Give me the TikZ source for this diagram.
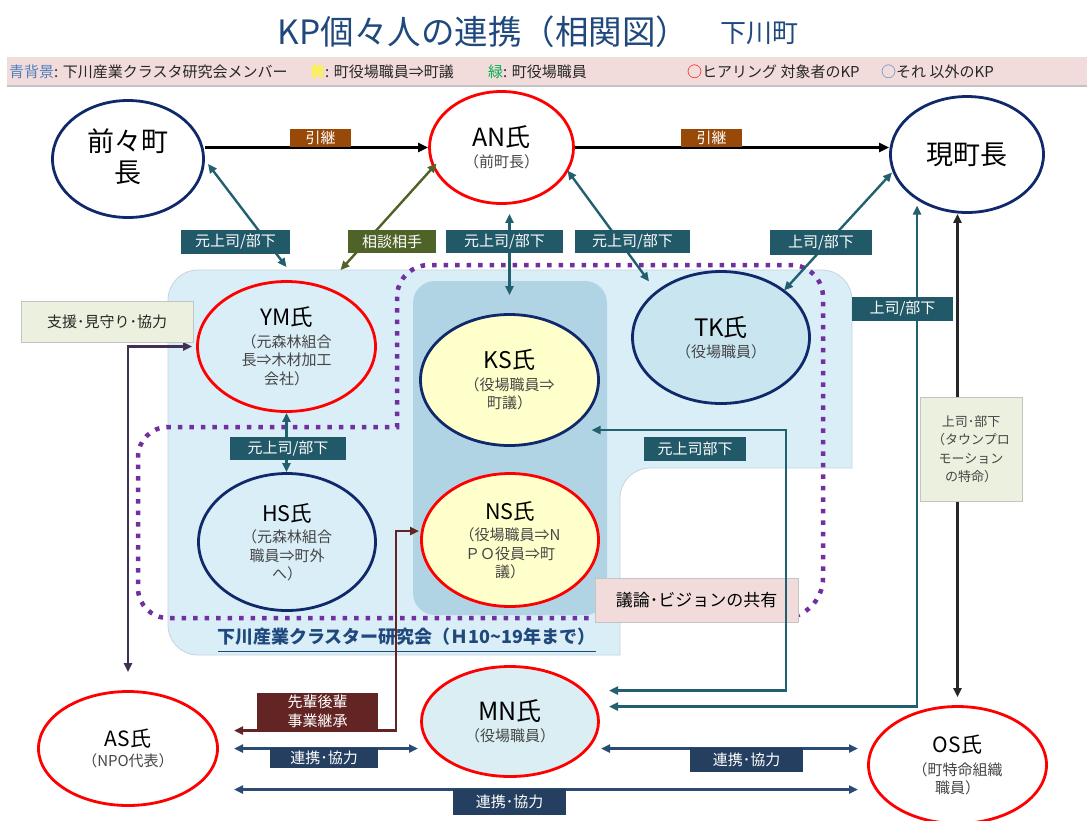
\documentclass[tikz,border=0pt]{standalone}
\usepackage{fontspec}
\setmainfont{Noto Sans CJK JP}
\usetikzlibrary{shapes.geometric,arrows.meta,calc}
\definecolor{kpnavy}{HTML}{10296B}
\definecolor{kpred}{HTML}{FF0000}
\definecolor{titleblue}{HTML}{1F497D}
\definecolor{legband}{HTML}{F2DCDB}
\definecolor{legblue}{HTML}{4F81BD}
\definecolor{leggreen}{HTML}{00B050}
\definecolor{legyellow}{HTML}{FFFF00}
\definecolor{regionlight}{HTML}{DAEEF8}
\definecolor{regiondark}{HTML}{B0D4E3}
\definecolor{regionedge}{HTML}{C5D3DC}
\definecolor{dotpurple}{HTML}{7030A0}
\definecolor{kpyellow}{HTML}{FFFFCC}
\definecolor{tkfill}{HTML}{C8E5F0}
\definecolor{mnfill}{HTML}{DAEEF3}
\definecolor{tealline}{HTML}{23606F}
\definecolor{tealfill}{HTML}{215968}
\definecolor{brownfill}{HTML}{984807}
\definecolor{olivec}{HTML}{4F6228}
\definecolor{darkredc}{HTML}{632523}
\definecolor{navyfill}{HTML}{243F60}
\definecolor{navyline}{HTML}{2B4C72}
\definecolor{supportpurple}{HTML}{403152}
\definecolor{greenbox}{HTML}{EBF1DE}
\definecolor{boxedge}{HTML}{C4C4C4}
\definecolor{subgray}{HTML}{454545}
\definecolor{nearblack}{HTML}{262626}
\newcommand\kpfs[2]{\fontsize{#1pt}{#2pt}\selectfont}
\newcommand\kpname[2]{{\kpfs{#1}{#1}\color{black}#2}}
\begin{document}
\begin{tikzpicture}[x=1pt,y=-1pt,
 kp/.style={ellipse, line width=2.8pt, inner sep=0pt, align=center, text=subgray, font=\kpfs{15}{18.5}},
 kpr/.style={kp, draw=kpred},
 kpb/.style={kp, draw=kpnavy},
 kptips/.style={arrows={Triangle[length=9pt,width=8pt]-Triangle[length=9pt,width=8pt]}},
 conn/.style={kptips, line width=2.4pt},
 succ/.style={line width=3pt, black, arrows={-Triangle[length=10pt,width=9pt]}},
 lab/.style={inner sep=0pt, text=white, align=center, font=\kpfs{15}{19}},
 legitem/.style={anchor=west, inner sep=0pt, font=\kpfs{15}{18}, text=nearblack},
 greybox/.style={fill=greenbox, draw=boxedge, line width=0.8pt, inner sep=0pt, align=center},
 dots/.style={dotpurple, line width=4.5pt, dash pattern=on 4.5pt off 7pt},
]
\useasboundingbox (0,0) rectangle (1091,820);
% title
\node[inner sep=0pt, text=titleblue, font=\kpfs{33.5}{38}] (title) at (483.5,32) {KP個々人の連携（相関図）};
\node[inner sep=0pt, text=titleblue, font=\kpfs{26}{30}] (town) at (759,33) {下川町};
% legend band
\fill[legband] (7,57) rectangle (1087,86);
\draw[boxedge, line width=1.2pt] (7,86) -- (1087,86);
\node[legitem] (lg1) at (9,72) {\textcolor{legblue}{青背景}: 下川産業クラスタ研究会メンバー};
\node[legitem] (lg2) at (310,72) {\textcolor{legyellow}{黄}: 町役場職員⇒町議};
\node[legitem] (lg3) at (488,72) {\textcolor{leggreen}{緑}: 町役場職員};
\node[legitem] (lg4) at (687,72) {\textcolor{kpred}{○}ヒアリング 対象者のKP};
\node[legitem] (lg5) at (881,72) {\textcolor{legblue}{○}それ 以外のKP};
% regions
\path[fill=regionlight, draw=regionedge, line width=0.8pt]
 (168,300) .. controls (168,283.4) and (181.4,270) .. (198,270)
 -- (822,270) .. controls (838.6,270) and (852,283.4) .. (852,300)
 -- (852,468) -- (650,468) .. controls (633.4,468) and (620,481.4) .. (620,498)
 -- (620,655) -- (198,655) .. controls (181.4,655) and (168,641.6) .. (168,625) -- cycle;
\fill[regiondark, rounded corners=22pt] (413,281) rectangle (607,615);
\node[anchor=west, inner sep=0pt, text=titleblue, font=\kpfs{18}{20}\bfseries] (cluster) at (217,637) {下川産業クラスター研究会（Ｈ10\textasciitilde19年まで）};
\draw[titleblue, line width=1pt] (218,651) -- (596,651);
\draw[dots] (600,618) -- (168,618) .. controls (151.4,618) and (138,604.6) .. (138,588)
 -- (138,457) .. controls (138,440.4) and (151.4,427) .. (168,427)
 -- (397,427) -- (397,297) .. controls (397,279.3) and (411.3,265) .. (429,265)
 -- (791,265) .. controls (808.7,265) and (823,279.3) .. (823,297)
 -- (823,578) .. controls (823,600.1) and (805.1,618) .. (783,618);
% persons
\node[kpb, text=black, font=\kpfs{27}{31}, minimum width=151pt, minimum height=117pt] (ZZ) at (128,159) {前々町\\長\rule[-6pt]{0pt}{6pt}};
\node[kpr, minimum width=144pt, minimum height=112pt] (AN) at (501.5,147.5) {\kpname{25}{AN氏}\\[3pt]（前町長）};
\node[kpb, text=black, font=\kpfs{27}{31}, minimum width=153pt, minimum height=116pt] (GZ) at (967,154.5) {現町長};
\node[kpr, minimum width=178pt, minimum height=130pt] (YM) at (286.5,346.5) {\kpname{22.5}{YM氏}\\[3pt]（元森林組合\\長⇒木材加工\\会社）};
\node[kpb, minimum width=177pt, minimum height=137pt] (HS) at (287,542) {\kpname{21.5}{HS氏}\\[3pt]（元森林組合\\職員⇒町外\\へ）};
\node[kpb, fill=kpyellow, minimum width=178pt, minimum height=131pt] (KS) at (509.5,380) {\kpname{23}{KS氏}\\[3pt]（役場職員⇒\\町議）};
\node[kpr, fill=kpyellow, minimum width=177pt, minimum height=133pt] (NS) at (510,540) {\kpname{21.5}{NS氏}\\[3pt]（役場職員⇒N\\ＰＯ役員⇒町\\議）};
\node[kpb, fill=tkfill, minimum width=177pt, minimum height=132pt] (TK) at (721,337.5) {\kpname{24}{TK氏}\\[3pt]（役場職員）};
\node[kpr, fill=mnfill, minimum width=177pt, minimum height=110pt] (MN) at (510,721.5) {\kpname{25}{MN氏}\\[2pt]（役場職員）};
\node[kpr, minimum width=179pt, minimum height=114pt] (AS) at (128,748.5) {\kpname{21}{AS氏}\\[2pt]（NPO代表）};
\node[kpr, minimum width=178pt, minimum height=117pt] (OS) at (957.5,765) {\kpname{21}{OS氏}\\[4pt]（町特命組織\\職員）};
% shared vision box
\node[fill=legband, draw=boxedge, line width=0.8pt, inner sep=0pt, minimum width=203pt, minimum height=44pt, font=\kpfs{17}{20}, text=black] (vision) at (696.5,600) {議論･ビジョンの共有};
% connectors
\draw[succ] (ZZ.east |- AN.center) -- (AN.west);
\draw[succ] (AN.east) -- (AN.east -| GZ.west);
\draw[conn, tealline] ($(ZZ.center)+(80,5)$) -- ($(YM.north)+(0,-13)$);
\draw[conn, olivec] ($(AN.center)+(-65,16)$) -- ($(YM.north)+(54,-10)$);
\draw[conn, tealline] ($(KS.center |- AN.south)+(0,9)$) -- ($(KS.north)+(0,-18)$);
\draw[conn, tealline] ($(AN.center)+(66,23)$) -- ($(TK.center)+(-72,-56)$);
\draw[conn, tealline] ($(GZ.center)+(-75,18)$) -- ($(TK.center)+(63,-47)$);
\draw[conn, tealline] ($(MN.center)+(99,-15)$) -| ($(GZ.center)+(-50,51)$);
\draw[conn, nearblack] (OS.center |- GZ.south) -- ($(OS.north)+(0,-8)$);
\draw[conn, tealline] ($(KS.center)+(82,50)$) -- ++(194.5,0) |- ($(MN.center)+(99,-31)$);
\draw[conn, tealline] (YM.south) -- (YM.south |- HS.north);
\draw[conn, supportpurple] ($(YM.west)+(-4,0)$) -| ($(AS.north)+(0,-18)$);
\draw[conn, darkredc] ($(NS.center)+(-91,-9)$) -- ++(-23,0) |- ($(AS.center)+(106,-18)$);
\draw[conn, navyline] ($(AS.center)+(106,0)$) -- ($(MN.center)+(-92,27)$);
\draw[conn, navyline] ($(MN.center)+(91,27)$) -- ($(OS.center)+(-99.5,-16.5)$);
\draw[conn, navyline] ($(AS.center)+(106,41)$) -- ($(OS.center)+(-99.5,24.5)$);
% labels
\node[lab, fill=brownfill, minimum width=61pt, minimum height=18pt] (hk1) at (320.5,138) {引継};
\node[lab, fill=brownfill, minimum width=61pt, minimum height=18pt] (hk2) at (711.5,138) {引継};
\node[lab, fill=tealfill, minimum width=109pt, minimum height=24pt] (l1) at (235.5,242) {元上司/部下};
\node[lab, fill=olivec, minimum width=88pt, minimum height=23pt] (l2) at (392,241.5) {相談相手};
\node[lab, fill=tealfill, minimum width=117pt, minimum height=23pt] (l3) at (504.5,241.5) {元上司/部下};
\node[lab, fill=tealfill, minimum width=115pt, minimum height=23pt] (l4) at (632.5,241.5) {元上司/部下};
\node[lab, fill=tealfill, minimum width=102pt, minimum height=25pt] (l5) at (821,242.5) {上司/部下};
\node[lab, fill=tealfill, minimum width=101pt, minimum height=24pt] (l6) at (902.5,309) {上司/部下};
\node[lab, fill=tealfill, minimum width=116pt, minimum height=23pt] (l7) at (288,448.5) {元上司/部下};
\node[lab, fill=tealfill, minimum width=102pt, minimum height=24pt] (l8) at (695,449) {元上司部下};
\node[lab, fill=darkredc, minimum width=121pt, minimum height=37pt] (l9) at (317.5,711.5) {先輩後輩\\事業継承};
\node[lab, fill=navyfill, minimum width=108pt, minimum height=20pt] (l10) at (324,758) {連携･協力};
\node[lab, fill=navyfill, minimum width=113pt, minimum height=24pt] (l11) at (746.5,760) {連携･協力};
\node[lab, fill=navyfill, minimum width=113pt, minimum height=26pt] (l12) at (509.5,802) {連携･協力};
\node[greybox, minimum width=172pt, minimum height=41pt, font=\kpfs{15}{18}, text=nearblack] (sup) at (107,321.5) {支援･見守り･協力};
\node[greybox, minimum width=102pt, minimum height=104pt, font=\kpfs{13}{18.5}, text=subgray] (tp) at (971,449) {上司･部下\\（タウンプロ\\モーション\\の特命）};
\end{tikzpicture}
\end{document}
